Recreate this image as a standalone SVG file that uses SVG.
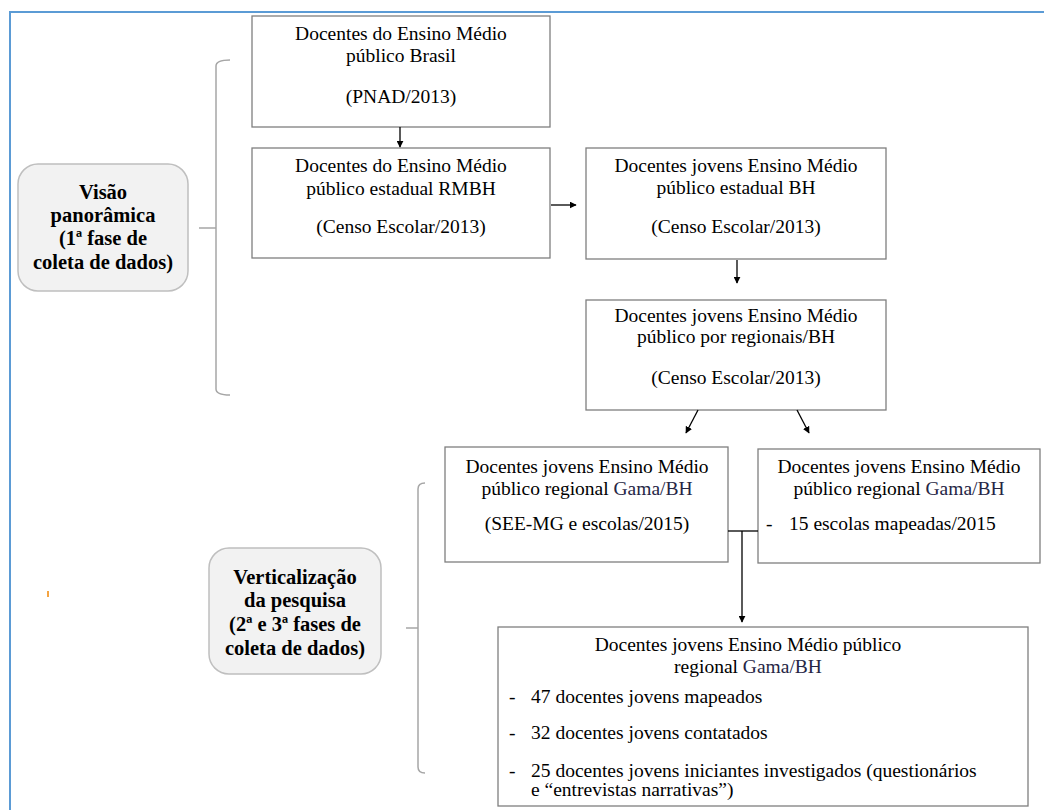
<svg xmlns="http://www.w3.org/2000/svg" width="1044" height="810" viewBox="0 0 1044 810">
<style>
.box{fill:#fff;stroke:#7f7f7f;stroke-width:1.3}
.cap{fill:#f2f2f2;stroke:#bfbfbf;stroke-width:1.5}
.br{fill:none;stroke:#a6a6a6;stroke-width:1.5}
.t{font-family:"Liberation Serif","Times New Roman",serif;font-size:19.5px;fill:#000}
.c{text-anchor:middle}
.b{font-family:"Liberation Serif","Times New Roman",serif;font-size:20.5px;font-weight:bold;fill:#000;text-anchor:middle}
.g{fill:#262645}
.ln{fill:none;stroke:#000;stroke-width:1.3}
</style>
<defs>
<marker id="ah" viewBox="0 0 10 10" refX="9" refY="5" markerWidth="7" markerHeight="7" markerUnits="userSpaceOnUse" orient="auto">
<path d="M0,0 L10,5 L0,10 z" fill="#000"/>
</marker>
</defs>
<rect width="1044" height="810" fill="#fff"/>
<path d="M10,810 L10,12 L1044,12" fill="none" stroke="#5b9bd5" stroke-width="2"/>
<rect x="47" y="591" width="2" height="6" fill="#f4a442"/>

<g id="bracket1">
<path class="br" d="M230,60 Q216,60 216,66 L216,389 Q216,395 230,395 M199,228 L216,228"/>
</g>
<g id="bracket2">
<path class="br" d="M425,483 Q418,483 418,489 L418,767 Q418,773 425,773 M406,628 L418,628"/>
</g>

<g id="visao">
<rect class="cap" x="18" y="164" width="170" height="127" rx="20"/>
<text class="b" x="103" y="199">Visão</text>
<text class="b" x="103" y="222">panorâmica</text>
<text class="b" x="103" y="245">(1ª fase de</text>
<text class="b" x="103" y="269">coleta de dados)</text>
</g>

<g id="verticalizacao">
<rect class="cap" x="209" y="548" width="172" height="126" rx="20"/>
<text class="b" x="295" y="584">Verticalização</text>
<text class="b" x="295" y="607">da pesquisa</text>
<text class="b" x="295" y="631">(2ª e 3ª fases de</text>
<text class="b" x="295" y="655">coleta de dados)</text>
</g>

<g id="n1">
<rect class="box" x="252" y="16" width="298" height="111"/>
<text class="t c" x="401" y="40">Docentes do Ensino Médio</text>
<text class="t c" x="401" y="62">público Brasil</text>
<text class="t c" x="401" y="103">(PNAD/2013)</text>
</g>

<g id="n2">
<rect class="box" x="252" y="148" width="298" height="110"/>
<text class="t c" x="401" y="172">Docentes do Ensino Médio</text>
<text class="t c" x="401" y="195">público estadual RMBH</text>
<text class="t c" x="401" y="233">(Censo Escolar/2013)</text>
</g>

<g id="n3">
<rect class="box" x="586" y="148" width="300" height="111"/>
<text class="t c" x="736" y="172">Docentes jovens Ensino Médio</text>
<text class="t c" x="736" y="194">público estadual BH</text>
<text class="t c" x="736" y="233">(Censo Escolar/2013)</text>
</g>

<g id="n4">
<rect class="box" x="586" y="300" width="300" height="110"/>
<text class="t c" x="736" y="322">Docentes jovens Ensino Médio</text>
<text class="t c" x="736" y="343">público por regionais/BH</text>
<text class="t c" x="736" y="384">(Censo Escolar/2013)</text>
</g>

<g id="n5">
<rect class="box" x="445" y="447" width="283" height="115"/>
<text class="t c" x="587" y="473">Docentes jovens Ensino Médio</text>
<text class="t c" x="587" y="495">público regional <tspan class="g">Gama/BH</tspan></text>
<text class="t c" x="587" y="530">(SEE-MG e escolas/2015)</text>
</g>

<g id="n6">
<rect class="box" x="758" y="449" width="282" height="114"/>
<text class="t c" x="899" y="473">Docentes jovens Ensino Médio</text>
<text class="t c" x="899" y="495">público regional <tspan class="g">Gama/BH</tspan></text>
<text class="t" x="766" y="530">-</text>
<text class="t" x="789" y="530">15 escolas mapeadas/2015</text>
</g>

<g id="n7">
<rect class="box" x="498" y="627" width="530" height="179"/>
<text class="t c" x="748" y="651">Docentes jovens Ensino Médio público</text>
<text class="t c" x="748" y="673">regional <tspan class="g">Gama/BH</tspan></text>
<text class="t" x="509" y="703">-</text>
<text class="t" x="531" y="703">47 docentes jovens mapeados</text>
<text class="t" x="509" y="739">-</text>
<text class="t" x="531" y="739">32 docentes jovens contatados</text>
<text class="t" x="509" y="777">-</text>
<text class="t" x="531" y="777">25 docentes jovens iniciantes investigados (questionários</text>
<text class="t" x="531" y="796">e “entrevistas narrativas”)</text>
</g>

<g id="connectors">
<line class="ln" x1="400" y1="127" x2="400" y2="147" marker-end="url(#ah)"/>
<line class="ln" x1="551" y1="205" x2="576" y2="205" marker-end="url(#ah)"/>
<line class="ln" x1="737" y1="260" x2="737" y2="283" marker-end="url(#ah)"/>
<line class="ln" x1="698" y1="410" x2="686" y2="433" marker-end="url(#ah)"/>
<line class="ln" x1="797" y1="410" x2="809" y2="433" marker-end="url(#ah)"/>
<line class="ln" x1="728" y1="531" x2="758" y2="531"/>
<line class="ln" x1="742" y1="531" x2="742" y2="622" marker-end="url(#ah)"/>
</g>
</svg>
